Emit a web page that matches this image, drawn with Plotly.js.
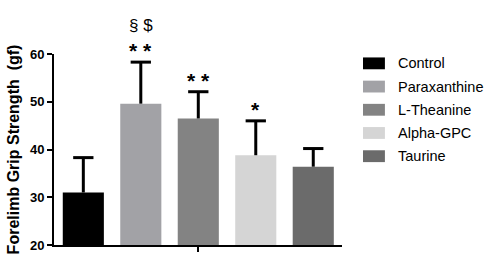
<!DOCTYPE html>
<html>
<head>
<meta charset="utf-8">
<script src="https://cdn.plot.ly/plotly-3.0.1.min.js"></script>
<style>
html,body{margin:0;padding:0;background:#fff;}
#chart{width:490px;height:267px;}
</style>
</head>
<body>
<div id="chart"></div>
<script>
// ---- data ----
var groups = ['Control', 'Paraxanthine', 'L-Theanine', 'Alpha-GPC', 'Taurine'];
var means = [31.0, 49.6, 46.5, 38.8, 36.4];
var sdUp = [7.3, 8.7, 5.6, 7.2, 3.8];
var sigStars = ['', '* *', '* *', '*', ''];
var sigOther = ['', '§ $', '', '', ''];
var yTicks = [20, 30, 40, 50, 60];
var colors = ['#000000', '#a2a2a6', '#838383', '#d5d5d5', '#6b6b6b'];

var FONT = 'Liberation Sans, Arial, Helvetica, sans-serif';

var traces = groups.map(function (g, i) {
  return {
    type: 'bar',
    name: g,
    x: [i],
    y: [means[i]],
    width: 0.715,
    marker: {color: colors[i], line: {width: 0}},
    showlegend: false,
    hoverinfo: 'skip'
  };
});

// one-sided (upper) error bars: stems + caps
var stemX = [], stemY = [], capX = [], capY = [];
groups.forEach(function (g, i) {
  stemX.push(i, i, null);
  stemY.push(means[i], means[i] + sdUp[i], null);
  capX.push(i);
  capY.push(means[i] + sdUp[i]);
});
traces.push({
  type: 'scatter', mode: 'lines', x: stemX, y: stemY,
  line: {color: '#000', width: 3}, connectgaps: false,
  showlegend: false, hoverinfo: 'skip', cliponaxis: false
});
traces.push({
  type: 'scatter', mode: 'markers', x: capX, y: capY,
  marker: {symbol: 'line-ew', size: 14.5, line: {color: '#000', width: 3}},
  showlegend: false, hoverinfo: 'skip', cliponaxis: false
});

var annotations = [];
var shapes = [];
groups.forEach(function (g, i) {
  if (sigStars[i]) {
    annotations.push({
      x: i, y: means[i] + sdUp[i], xref: 'x', yref: 'y',
      text: sigStars[i], showarrow: false,
      yanchor: 'bottom', yshift: -2,
      font: {family: FONT, size: 21, color: '#000', weight: 'bold'}
    });
  }
  if (sigOther[i]) {
    annotations.push({
      x: i, y: means[i] + sdUp[i], xref: 'x', yref: 'y',
      text: sigOther[i], showarrow: false,
      yanchor: 'bottom', yshift: 25,
      font: {family: FONT, size: 17, color: '#000'}
    });
  }
  // legend (drawn manually to match swatch shape)
  var yc = 0.951 - i * 0.1215;
  shapes.push({
    type: 'rect', xref: 'paper', yref: 'paper',
    x0: 1.073, x1: 1.149, y0: yc - 0.031, y1: yc + 0.031,
    fillcolor: colors[i], line: {width: 0}
  });
  annotations.push({
    x: 1.186, y: yc, xref: 'paper', yref: 'paper',
    text: g, showarrow: false, xanchor: 'left', yanchor: 'middle',
    font: {family: FONT, size: 14.5, color: '#000'}
  });
});

var layout = {
  width: 490, height: 267,
  margin: {l: 54, r: 148, t: 54, b: 22, pad: 0},
  paper_bgcolor: '#fff', plot_bgcolor: '#fff',
  barmode: 'overlay',
  showlegend: false,
  font: {family: FONT, color: '#000'},
  xaxis: {
    range: [-0.51, 4.5],
    tickvals: [2], ticktext: [''],
    ticks: 'outside', ticklen: 5, tickwidth: 2, tickcolor: '#000',
    showticklabels: false,
    showline: true, linewidth: 2, linecolor: '#000',
    showgrid: false, zeroline: false, fixedrange: true
  },
  yaxis: {
    range: [20, 60],
    tickvals: yTicks, ticktext: yTicks.map(String),
    ticks: 'outside', ticklen: 5, tickwidth: 2, tickcolor: '#000',
    tickfont: {family: FONT, size: 13, color: '#000', weight: 'bold'},
    showline: true, linewidth: 2, linecolor: '#000',
    showgrid: false, zeroline: false, fixedrange: true,
    title: {
      text: 'Forelimb Grip Strength  (gf)',
      font: {family: FONT, size: 16, color: '#000', weight: 'bold'},
      standoff: 6
    }
  },
  annotations: annotations,
  shapes: shapes
};

Plotly.newPlot('chart', traces, layout, {displayModeBar: false, staticPlot: true});
</script>
</body>
</html>
